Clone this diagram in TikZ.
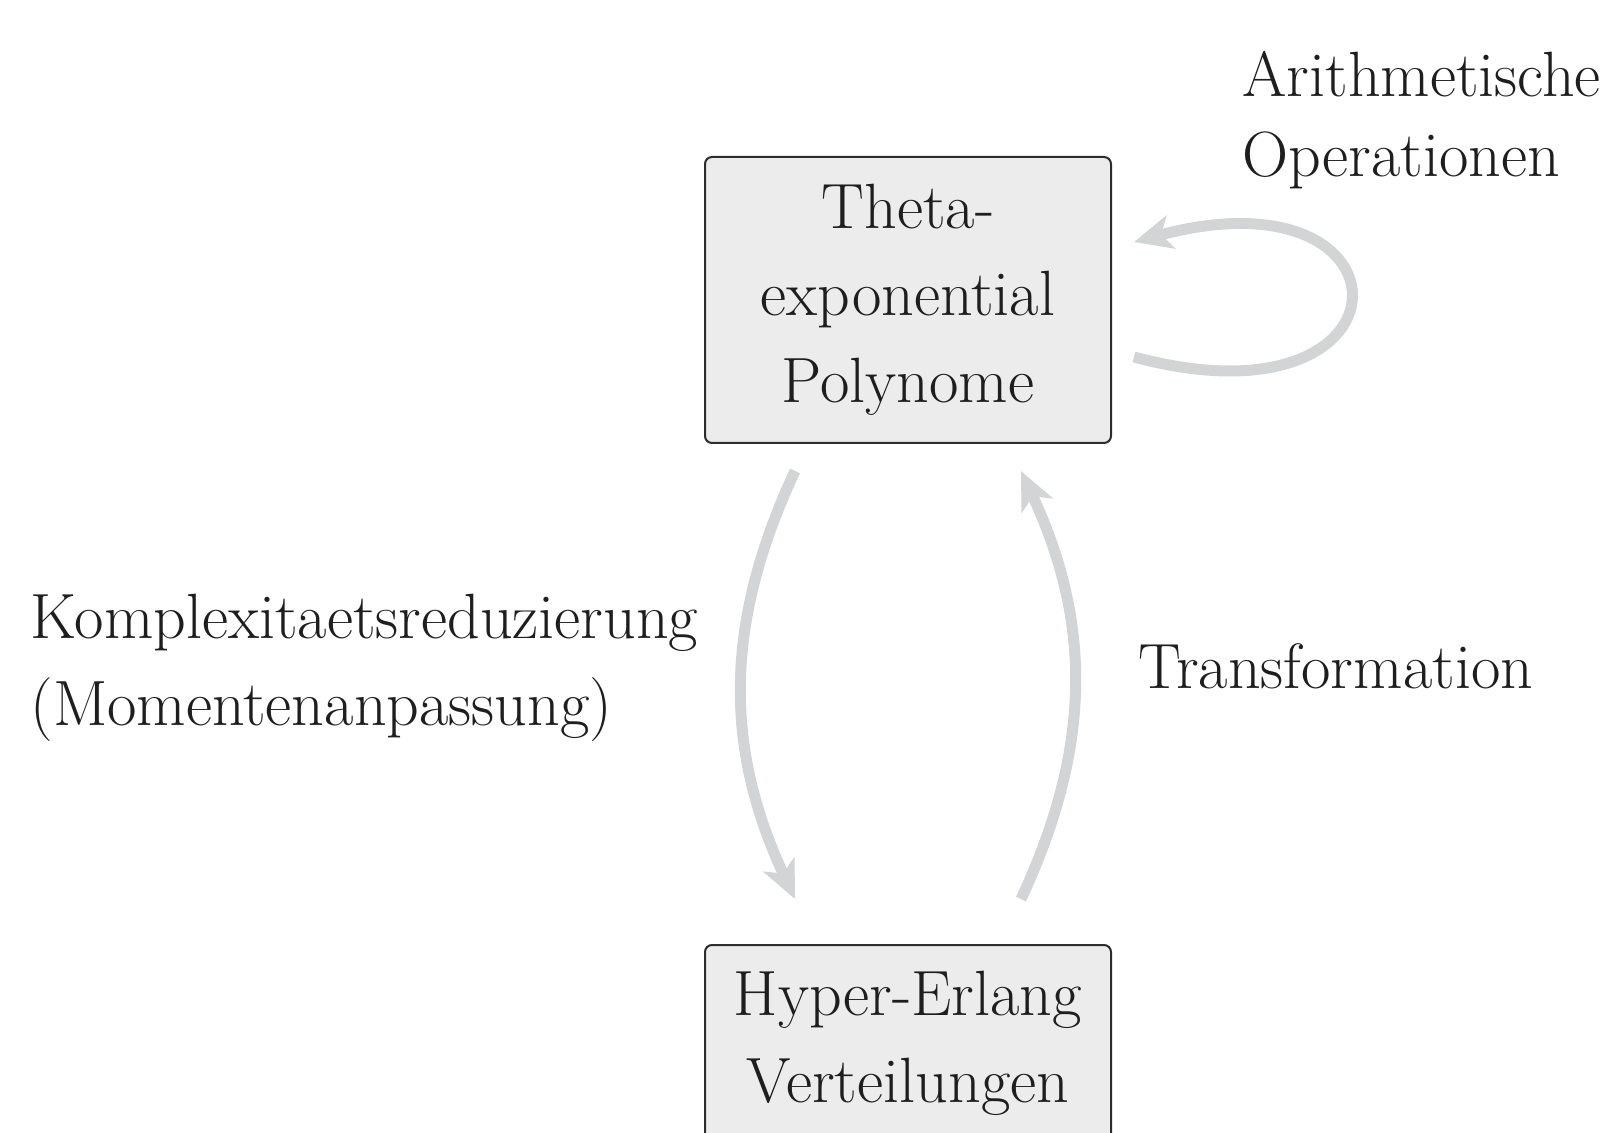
\documentclass[tikz,border=0pt]{standalone}
\usetikzlibrary{arrows.meta,calc}
\definecolor{boxfill}{RGB}{236,236,236}
\definecolor{boxline}{RGB}{45,45,45}
\definecolor{arrowgray}{RGB}{211,212,214}
\definecolor{textcol}{RGB}{30,30,30}
\begin{document}
\begin{tikzpicture}[x=0.5pt,y=-0.5pt,
  every node/.style={font=\fontsize{32}{43.5}\selectfont, text=textcol},
  box/.style={draw=boxline, line width=1pt, fill=boxfill, rounded corners=3.5pt, align=center, minimum width=203pt, inner sep=0pt},
  lbl/.style={inner sep=0pt, align=left},
  flow/.style={draw=arrowgray, line width=5.5pt, -{Stealth[length=19pt,width=17pt,inset=5pt]}}]
\useasboundingbox (0,0) rectangle (1610,1133);
\node[box, minimum height=143pt] (tep) at (908,300) {Theta-\\exponential\\Polynome};
\node[box, minimum height=98pt] (hed) at (908,1043) {Hyper-Erlang\\Verteilungen};
\draw[flow] ($(tep.south)+(-113,27)$) .. controls +(-71,152) and +(-71,-152) .. ($(hed.north)+(-113,-45)$);
\draw[flow] ($(hed.north)+(113,-45)$) .. controls +(71,-152) and +(71,152) .. ($(tep.south)+(113,27)$);
\draw[flow] ($(tep.east)+(22,57)$) .. controls +(287,77) and +(287,-77) .. ($(tep.east)+(22,-58)$);
\node[lbl, anchor=base west] (arith) at (1242,177) {Arithmetische\\[-3.5pt]Operationen};
\node[lbl, anchor=base west] (komp) at (30,725) {Komplexitaetsreduzierung\\(Momentenanpassung)};
\node[lbl, anchor=base west] (trans) at (1138,688) {Transformation};
\end{tikzpicture}
\end{document}
